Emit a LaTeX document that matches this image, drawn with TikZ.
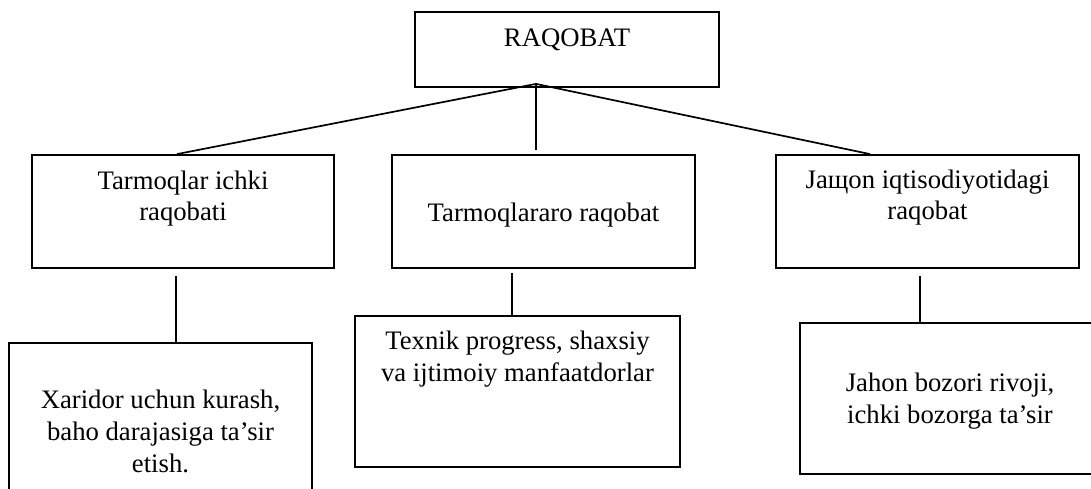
\documentclass[tikz,border=0pt]{standalone}
\usepackage{fontspec}
\setmainfont{Liberation Serif}

\begin{document}
\begin{tikzpicture}[
    x=1pt, y=-1pt,
    every node/.style={font=\fontsize{26.7}{31.7}\selectfont},
    box/.style={draw, line width=1.8pt, inner sep=0pt},
    boxtext/.style={align=center, inner sep=0pt},
    link/.style={line width=1.7pt}
]
\clip (0,0) rectangle (1091,489);

% top box
\node[box, minimum width=304pt, minimum height=75pt] (raqobat) at (567,49.5) {};

% middle row
\node[box, minimum width=302pt, minimum height=113pt] (ichki) at (183,211.5) {};
\node[box, minimum width=303pt, minimum height=113pt] (tarmoq) at (543.5,211.5) {};
\node[box, minimum width=303pt, minimum height=113pt] (jahon) at (927.5,211.5) {};

% bottom row
\node[box, minimum width=303pt, minimum height=170pt] (xaridor) at (160.5,428) {};
\node[box, minimum width=325pt, minimum height=151pt] (texnik) at (517.5,391.5) {};
\node[box, minimum width=300pt, minimum height=151pt] (bozor) at (950,398.5) {};

% box texts
\node[boxtext] (raqobattxt) at ([yshift=9.5pt]raqobat.center) {RAQOBAT};
\node[boxtext] (ichkitxt) at ([yshift=13pt]ichki.center) {Tarmoqlar ichki\\raqobati};
\node[boxtext] (tarmoqtxt) at ([yshift=-3.5pt]tarmoq.center) {Tarmoqlararo raqobat};
\node[boxtext] (jahontxt) at ([yshift=14pt]jahon.center) {Jaщon iqtisodiyotidagi\\raqobat};
\node[boxtext] (xaridortxt) at ([yshift=-3.5pt]xaridor.center) {Xaridor uchun kurash,\\baho darajasiga ta’sir\\etish.};
\node[boxtext] (texniktxt) at ([yshift=32.5pt]texnik.center) {Texnik progress, shaxsiy\\va ijtimoiy manfaatdorlar};
\node[boxtext] (bozortxt) at ([yshift=-2.5pt]bozor.center) {Jahon bozori rivoji,\\ichki bozorga ta’sir};

% lines from the top box
\coordinate (apex) at ([xshift=-31pt,yshift=4pt]raqobat.south);
\draw[link] (apex) -- ([xshift=-6pt]ichki.north);
\draw[link] (apex) -- ([xshift=-7.5pt,yshift=4pt]tarmoq.north);
\draw[link] (apex) -- ([xshift=-57.5pt]jahon.north);

% lines down to the bottom row
\coordinate (ichkidown) at ([xshift=-7pt,yshift=-7pt]ichki.south);
\coordinate (tarmoqdown) at ([xshift=-31.5pt,yshift=-4pt]tarmoq.south);
\coordinate (jahondown) at ([xshift=-7.5pt,yshift=-7pt]jahon.south);
\draw[link] (ichkidown) -- (ichkidown |- xaridor.north);
\draw[link] (tarmoqdown) -- (tarmoqdown |- texnik.north);
\draw[link] (jahondown) -- (jahondown |- bozor.north);

\end{tikzpicture}
\end{document}
